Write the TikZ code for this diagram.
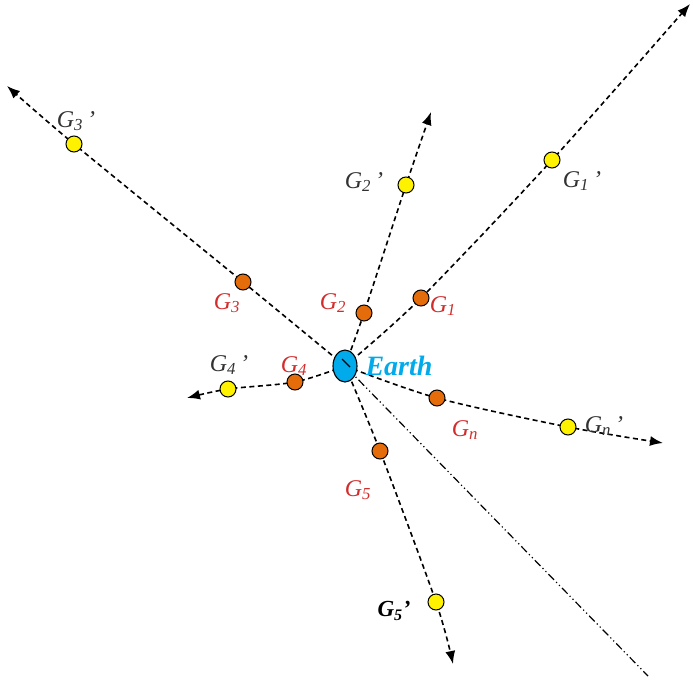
\documentclass[tikz,border=0pt]{standalone}
\usepackage{fontspec}
\setmainfont{Liberation Serif}
\usetikzlibrary{arrows.meta,backgrounds,shapes.geometric}
\definecolor{earthblue}{RGB}{0,170,235}
\definecolor{gred}{RGB}{210,45,45}
\definecolor{gorange}{RGB}{228,108,10}
\definecolor{gdark}{RGB}{50,50,50}
\newcommand\gsub[2]{G\textsubscript{#1}#2}
\begin{document}
\begin{tikzpicture}[x=1pt,y=-1pt,
  conn/.style={line width=1.6pt, dash pattern=on 5pt off 3.5pt, -{Latex[length=13pt,width=10pt]}},
  dashdot/.style={line width=1.2pt, dash pattern=on 8pt off 3pt on 1.2pt off 3pt on 1.2pt off 3pt},
  neardot/.style={circle, draw, line width=1pt, fill=gorange, minimum size=16pt, inner sep=0pt},
  fardot/.style={circle, draw, line width=1pt, fill=yellow, minimum size=16pt, inner sep=0pt},
  nlbl/.style={font=\fontsize{24}{24}\selectfont\itshape, text=gred, inner sep=0pt},
  flbl/.style={font=\fontsize{24}{24}\selectfont\itshape, text=gdark, inner sep=0pt},
  earth/.style={ellipse, draw, line width=1.1pt, fill=earthblue, minimum width=24pt, minimum height=32pt, inner sep=0pt},
  elbl/.style={font=\fontsize{28}{28}\selectfont\bfseries\itshape, text=earthblue, inner sep=0pt}]
\useasboundingbox (0,0) rectangle (693,680);
% Earth
\node[earth] (E) at (345,366) {};
\draw[line width=1.1pt] (342,359) -- (350,367);
\node[elbl] (Elbl) at (399,366) {Earth};
% near dots
\node[neardot] (G1) at (421,298) {};
\node[neardot] (G2) at (364,313) {};
\node[neardot] (G3) at (243,282) {};
\node[neardot] (G4) at (295,382) {};
\node[neardot] (Gn) at (437,398) {};
\node[neardot] (G5) at (380,451) {};
% far dots
\node[fardot] (G1p) at (552,160) {};
\node[fardot] (G2p) at (406,185) {};
\node[fardot] (G3p) at (74,144) {};
\node[fardot] (G4p) at (228,389) {};
\node[fardot] (Gnp) at (568,427) {};
\node[fardot] (G5p) at (436,602) {};
% arrow ends
\coordinate (a1) at (690,4);
\coordinate (a2) at (431,112);
\coordinate (a3) at (7,86);
\coordinate (a4) at (187,398);
\coordinate (an) at (663,443);
\coordinate (a5) at (453,664);
\coordinate (dd) at (648,676);
% labels
\node[nlbl] (L1) at (443,306) {\gsub{1}{}};
\node[nlbl] (L2) at (333,303) {\gsub{2}{}};
\node[nlbl] (L3) at (227,303) {\gsub{3}{}};
\node[nlbl] (L4) at (294,366) {\gsub{4}{}};
\node[nlbl] (Ln) at (465,430) {\gsub{n}{}};
\node[nlbl] (L5) at (358,490) {\gsub{5}{}};
\node[flbl] (L1p) at (582,181) {\gsub{1}{\,’}};
\node[flbl] (L2p) at (364,182) {\gsub{2}{\,’}};
\node[flbl] (L3p) at (76,121) {\gsub{3}{\,’}};
\node[flbl] (L4p) at (229,365) {\gsub{4}{\,’}};
\node[flbl] (Lnp) at (604,426) {\gsub{n}{\,’}};
\node[flbl, font=\fontsize{23}{23}\selectfont\bfseries\itshape, text=black] (L5p) at (394,611) {\gsub{5}{’}};
% connectors
\begin{scope}[on background layer]
\draw[conn] plot[smooth, tension=0.5] coordinates {(E.center) (G1.center) (G1p.center) (a1)};
\draw[conn] plot[smooth, tension=0.5] coordinates {(E.center) (G2.center) (G2p.center) (a2)};
\draw[conn] plot[smooth, tension=0.5] coordinates {(E.center) (G3.center) (G3p.center) (a3)};
\draw[conn] plot[smooth, tension=0.5] coordinates {(E.center) (G4.center) (G4p.center) (a4)};
\draw[conn] plot[smooth, tension=0.5] coordinates {(E.center) (Gn.center) (Gnp.center) (an)};
\draw[conn] plot[smooth, tension=0.5] coordinates {(E.center) (G5.center) (G5p.center) (a5)};
\draw[dashdot] (E.center) -- (dd);
\end{scope}
\end{tikzpicture}
\end{document}
